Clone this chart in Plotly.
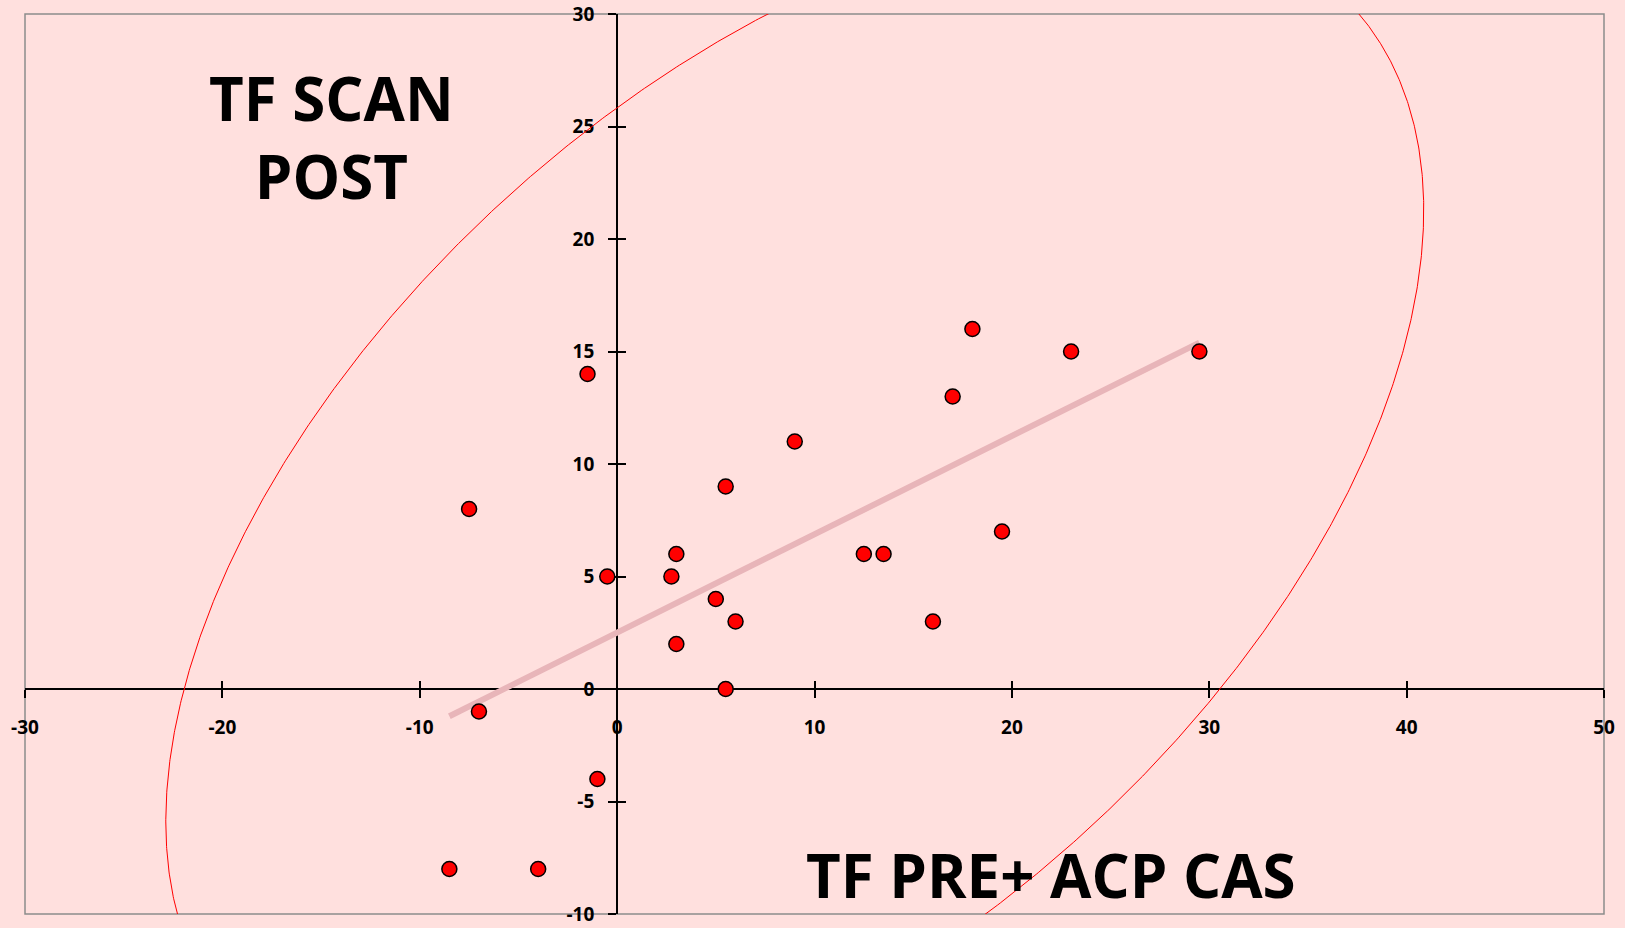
import numpy as np
import plotly.graph_objects as go

# ---- data ----
x_vals = [-1.5, -7.5, -0.5, 2.75, 3, 3, 5, 5.5, 6, 5.5, 9, 12.5, 13.5, 16, 17, 18, 19.5, 23, 29.5, -7, -1, -8.5, -4]
y_vals = [14, 8, 5, 5, 6, 2, 4, 9, 3, 0, 11, 6, 6, 3, 13, 16, 7, 15, 15, -1, -4, -8, -8]

X_TICKS = [-30, -20, -10, 0, 10, 20, 30, 40, 50]
Y_TICKS = [-10, -5, 0, 5, 10, 15, 20, 25, 30]
X_RANGE = [-30, 50]
Y_RANGE = [-10, 30]

# ellipse drawn on the chart (centre, semi-axes, rotation)
ELLIPSE_CENTER = (9.0, 7.7)
ELLIPSE_SEMI_AXES = (36.35, 20.08)
ELLIPSE_ANGLE_DEG = 35.25

LABEL_Y = "TF SCAN<br>POST"
LABEL_X = "TF PRE+ ACP CAS"

# ---- derived ----
slope, intercept = np.polyfit(x_vals, y_vals, 1)
trend_x = [min(x_vals), max(x_vals)]
trend_y = [slope * v + intercept for v in trend_x]

t = np.linspace(0, 2 * np.pi, 1441)
th = np.deg2rad(ELLIPSE_ANGLE_DEG)
a, b = ELLIPSE_SEMI_AXES
cx, cy = ELLIPSE_CENTER
ell_x = cx + a * np.cos(t) * np.cos(th) - b * np.sin(t) * np.sin(th)
ell_y = cy + a * np.cos(t) * np.sin(th) + b * np.sin(t) * np.cos(th)

BG = "#FFE0DE"
FONT = "Open Sans"

fig = go.Figure()
fig.add_trace(go.Scatter(x=ell_x, y=ell_y, mode="lines",
                         line=dict(color="#FF0000", width=1), hoverinfo="skip", showlegend=False))
fig.add_trace(go.Scatter(x=trend_x, y=trend_y, mode="lines",
                         line=dict(color="#E8B5B9", width=6), hoverinfo="skip", showlegend=False))
fig.add_trace(go.Scatter(x=x_vals, y=y_vals, mode="markers",
                         marker=dict(color="#FF0000", size=15, line=dict(color="#000000", width=1.5)),
                         showlegend=False))
# helper trace for the inner half of the crossing ticks
fig.add_trace(go.Scatter(x=[0], y=[0], xaxis="x2", yaxis="y2", mode="markers",
                         marker=dict(opacity=0), hoverinfo="skip", showlegend=False))

x_pos = (0 - Y_RANGE[0]) / (Y_RANGE[1] - Y_RANGE[0])
y_pos = (0 - X_RANGE[0]) / (X_RANGE[1] - X_RANGE[0])

tickfont = dict(family=FONT, size=19, color="#000000", weight=700)
common = dict(showgrid=False, zeroline=False, anchor="free", automargin=False,
              tickcolor="#000000", tickwidth=2, ticklen=8, layer="below traces")

fig.update_layout(
    width=1625, height=928,
    margin=dict(l=25, r=21, t=14, b=14),
    paper_bgcolor=BG, plot_bgcolor=BG,
    template="none",
    showlegend=False,
    xaxis=dict(range=X_RANGE, tickvals=X_TICKS, ticktext=[str(v) for v in X_TICKS],
               ticks="outside", showline=True, linecolor="#000000", linewidth=2,
               position=x_pos, tickfont=tickfont, ticklabelstandoff=13,
               ticklabeloverflow="allow", **common),
    yaxis=dict(range=Y_RANGE, tickvals=Y_TICKS, ticktext=[str(v) for v in Y_TICKS],
               ticks="outside", showline=True, linecolor="#000000", linewidth=2,
               position=y_pos, tickfont=tickfont, ticklabelstandoff=10,
               ticklabeloverflow="allow", **common),
    xaxis2=dict(range=X_RANGE, tickvals=X_TICKS, overlaying="x",
                ticks="inside", showticklabels=False, showline=False, position=x_pos, **common),
    yaxis2=dict(range=Y_RANGE, tickvals=Y_TICKS, overlaying="y",
                ticks="inside", showticklabels=False, showline=False, position=y_pos, **common),
    shapes=[dict(type="rect", xref="paper", yref="paper", x0=0, x1=1, y0=0, y1=1,
                 line=dict(color="#8C8C8C", width=1.5), layer="below")],
    annotations=[
        dict(text=LABEL_Y, xref="paper", yref="paper", x=0.1944, y=0.8633,
             showarrow=False, xanchor="center", yanchor="middle",
             font=dict(family=FONT, size=60, color="#000000", weight=700)),
        dict(text=LABEL_X, xref="paper", yref="paper", x=0.65, y=0.0431,
             showarrow=False, xanchor="center", yanchor="middle",
             font=dict(family=FONT, size=60, color="#000000", weight=700)),
    ],
)

fig.write_html("out.html")
